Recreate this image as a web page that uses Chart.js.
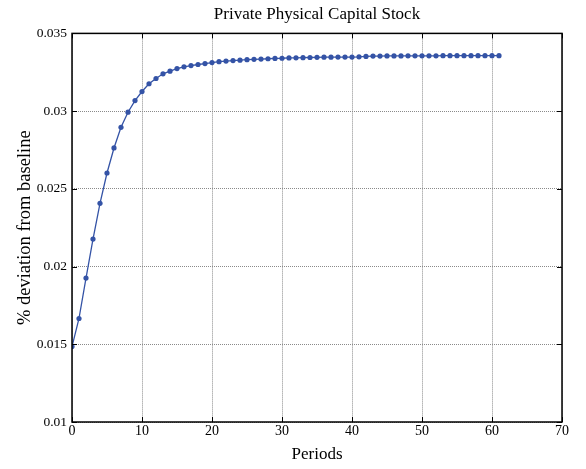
<!DOCTYPE html>
<html>
<head>
<meta charset="utf-8">
<script src="https://cdn.jsdelivr.net/npm/chart.js@4.4.0/dist/chart.umd.min.js"></script>
<style>
  html, body { margin: 0; padding: 0; background: #fff; }
  #wrap { width: 586px; height: 469px; }
</style>
</head>
<body>
<div id="wrap"><canvas id="capChart" width="586" height="469"></canvas></div>
<script>
// periods 0..61
var periods = [];
for (var i = 0; i <= 61; i++) periods.push(i);

var capitalDev = [
  0.01485, 0.01666, 0.01926, 0.02177, 0.02407, 0.02602, 0.02763, 0.02896, 0.02993, 0.03068,
  0.03126, 0.03176, 0.03210, 0.03240, 0.03257, 0.03274, 0.03285, 0.03293, 0.03300, 0.03306,
  0.03312, 0.03318, 0.03322, 0.03325, 0.03328, 0.03331, 0.03333, 0.03335, 0.03337, 0.03339,
  0.03340, 0.03342, 0.03343, 0.03344, 0.03345, 0.03346, 0.03347, 0.03347, 0.03348, 0.03348,
  0.03348, 0.03349, 0.03352, 0.03354, 0.03354, 0.03355, 0.03355, 0.03355, 0.03356, 0.03356,
  0.03356, 0.03356, 0.03356, 0.03357, 0.03357, 0.03357, 0.03357, 0.03357, 0.03357, 0.03357,
  0.03357, 0.03357
];

var xTicks = [0, 10, 20, 30, 40, 50, 60, 70];
var yTicks = [0.01, 0.015, 0.02, 0.025, 0.03, 0.035];

var serif = '"Liberation Serif", "Times New Roman", serif';

// full black frame + inward tick marks, like matlab axes
var frameTicks = {
  id: 'frameTicks',
  afterDraw: function(chart) {
    var ctx = chart.ctx, a = chart.chartArea;
    var xs = chart.scales.x, ys = chart.scales.y;
    ctx.save();
    ctx.strokeStyle = '#000';
    ctx.lineWidth = 1;
    xTicks.forEach(function(v) {
      var px = Math.round(xs.getPixelForValue(v)) + 0.5;
      ctx.beginPath();
      ctx.moveTo(px, a.bottom); ctx.lineTo(px, a.bottom - 5);
      ctx.moveTo(px, a.top); ctx.lineTo(px, a.top + 5);
      ctx.stroke();
    });
    yTicks.forEach(function(v) {
      var py = Math.round(ys.getPixelForValue(v)) + 0.5;
      ctx.beginPath();
      ctx.moveTo(a.left, py); ctx.lineTo(a.left + 5, py);
      ctx.moveTo(a.right, py); ctx.lineTo(a.right - 5, py);
      ctx.stroke();
    });
    ctx.lineWidth = 1.5;
    ctx.strokeRect(a.left, a.top, a.right - a.left, a.bottom - a.top);
    ctx.restore();
  }
};

var capChart = new Chart(document.getElementById('capChart').getContext('2d'), {
  type: 'line',
  data: {
    datasets: [{
      label: 'Private Physical Capital Stock',
      data: periods.map(function(p, k) { return { x: p, y: capitalDev[k] }; }),
      borderColor: '#3453a6',
      backgroundColor: '#3453a6',
      borderWidth: 1.3,
      pointRadius: 2.6,
      pointHoverRadius: 2.6,
      pointBorderWidth: 0,
      tension: 0
    }]
  },
  options: {
    responsive: false,
    animation: false,
    layout: { padding: { left: 0, right: 24, top: 0, bottom: 0 } },
    plugins: {
      legend: { display: false },
      tooltip: { enabled: false },
      title: {
        display: true,
        fullSize: false,
        text: 'Private Physical Capital Stock',
        color: '#000',
        font: { family: serif, size: 17, weight: 'normal', lineHeight: 1.2 },
        padding: { top: 4, bottom: 9 }
      }
    },
    scales: {
      x: {
        type: 'linear',
        min: 0, max: 70,
        afterBuildTicks: function(s) { s.ticks = xTicks.map(function(v) { return { value: v }; }); },
        ticks: { color: '#000', font: { family: serif, size: 14 }, padding: 1, maxRotation: 0 },
        grid: { color: '#8a8a8a', lineWidth: 1, drawTicks: false },
        border: { display: false, dash: [1, 1] },
        title: { display: true, text: 'Periods', color: '#000', font: { family: serif, size: 17 }, padding: { top: 0, bottom: 4 } },
        afterFit: function(s) { s.height = 47; }
      },
      y: {
        type: 'linear',
        min: 0.01, max: 0.035,
        afterBuildTicks: function(s) { s.ticks = yTicks.map(function(v) { return { value: v }; }); },
        ticks: {
          color: '#000', font: { family: serif, size: 13.5 }, padding: 5,
          callback: function(v) { return String(Math.round(v * 1000) / 1000); }
        },
        grid: { color: '#8a8a8a', lineWidth: 1, drawTicks: false },
        border: { display: false, dash: [1, 1] },
        title: { display: true, text: '% deviation from baseline', color: '#000', font: { family: serif, size: 18.5 }, padding: { top: 14, bottom: 4 } },
        afterFit: function(s) { s.width = 72; }
      }
    }
  },
  plugins: [frameTicks]
});
</script>
</body>
</html>
